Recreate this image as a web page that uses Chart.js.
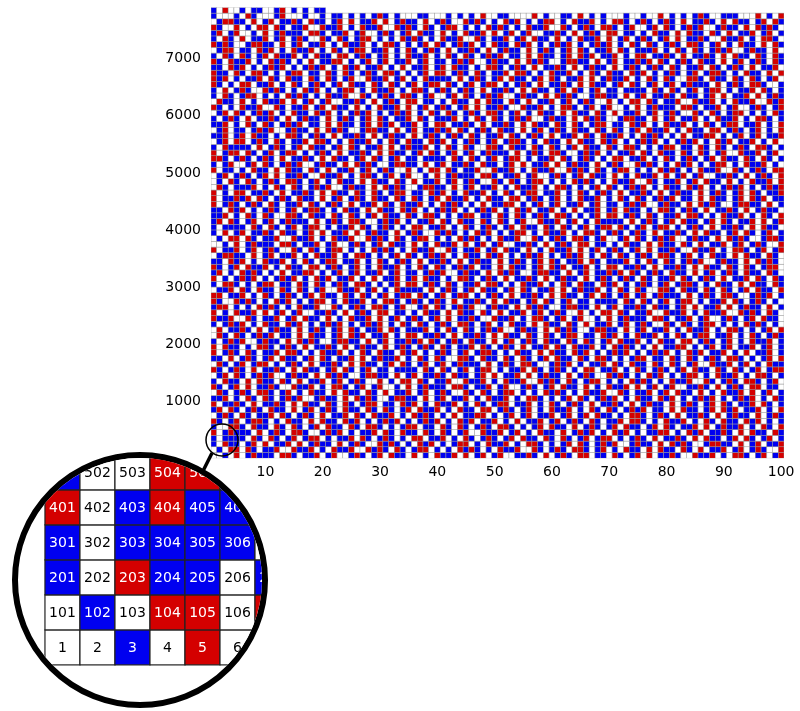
<!DOCTYPE html>
<html><head><meta charset="utf-8">
<script src="https://cdn.jsdelivr.net/npm/chart.js@4"></script>
<style>
body{margin:0;background:#fff;width:800px;height:711px;overflow:hidden;position:relative}
#main{position:absolute;left:0;top:-7px}
#insetWrap{position:absolute;left:12px;top:452px;width:244px;height:244px;border:6px solid #000;border-radius:50%;overflow:hidden;background:#fff}
</style></head><body>
<canvas id="main" width="800" height="490"></canvas>
<div id="insetWrap"><canvas id="inset" width="244" height="244"></canvas></div>
<script>
// Cell colours, one string per row of 100 cells, bottom row (cells 1-100) first.
// r = red, b = blue, w = white. Last row is partial (cells 7801-7824).
const rowCodes = [
"wwbwr wbrbb bwrrb wbbrw brwwb rbwbr wrbbw rwbwr bbrwr wbrwb rwwbb rbwrw brbwr rwbbw rbwbr wrwbb rbwwr bbrwb wrrbw brwbr",
"wbwrr wrbwb brwwr bbrwb wrbbr wwrbr bwrbw brrwb wbwrb rbwbw rbbrw wrbwb rbwrr bwbrw bwrbb wrwrb bwrbw rwbbr wbrwb rbwwr",
"bwrbb wbrwr wbbrw rwbrb bwrwb rbwwr brbwb wrbrw bwbrr wbwrb brwbw rrbwb wbrwr bwbrb rwwbr bbwrw rbrbw wbrrb bwrwb rwbbr",
"bwbbb bwrbw rbwbr wbrrw bwbbr wrbwb rbwbw rrwbb rwbwr bwbrb wbrwr bbwrb wrbwb rwbrr wbwbr bwrwb brbwr wrbbw brwrb wbrwb",
"rwbrb bbwrw brbwr rbwwb rbrwb wbbrw rbwrb bwrbw rbwbr wwrbb rwbrw bwrbb wrwbr brwbw rbrwb wbbrr wbwrb rwbbr bwrwr bbwrb",
"bwwrr bwrbb wrbwr bwbrw rbbwr bwrrb wbwbr rwbbw rbwrb wbrbw rrbwb wbrwr bbwrw brbwb rwrbb wbrwr bwbbr wrwbr bbrwb wrbwr",
"rbwbr wbrrb wbwrb bwrwr bbwrb rwbwb rbrwb wbrbr wbwrb rwbbr wbwrw bbrwb rwbrb wrbwb brwrr bwbwr bbrwb wrbwr bbwrb rwbwb",
"wbrbw rbwbb rwrbw brbwr wbbrw rbwrb brwbw rbrbw bwrwb brrwb wbrwb rwbbr wbrwb rwrbb wbwrr bwbrb wrwbb rbwrw brbbw rwbrb",
"brwrb wbrbw rbbwr wbrwb rbwrb bwrbw rbwbr wrbbr wbwrb bwrrw brbwb rwbwr bbrwb wrbwr bwbrb rwbbw rwrbb wbrwr brwbb rwbwr",
"rwbbr bwrwb brbwr wrbbw rbwrb wbrrw bbwrb rwbwr bbrwb wrbwb rrwbb rwbwr bwbrb wrwbb rbwrw brbbw rwbrb wbrwr bwbbr wrbwb",
"bbrwb wrbwr bwbrb rwwbr bbwrw rbrbw wbrrb bwrwb rwbbr wbwrb brwbw rrbwb wbrwr bwbrb rwbwr bbwrb rwbwb rbrwb wbrbr wbwrb",
"wrbwb rbwrr bwbrw bwrbb wrwrb bwrbw rwbbr wbrwb rbwwr bwrbw brrwb wbwrb rbwbw rbbrw wrbwb brwbr wrbbw rwbwr bbrwr wbrwb",
"rbwbr wrwbb rbwwr bbrwb wrrbw brwbr wwbwr wbrbb bwrrb wbbrw brwwb rbwbr wrbbw rwbwr bbrwr wbrwb rwwbb rbwrw brbwr rwbbw",
"bwrbb wrwrb bwrbw rwbbr wbrwb rbwwr wbwrr wrbwb brwwr bbrwb wrbbr wwrbr bwrbw brrwb wbwrb rbwbw rbbrw wrbwb rbwrr bwbrw",
"wbrwr bwbrb rwwbr bbwrw rbrbw wbrrb bwrwb rwbbr bwrbb wbrwr wbbrw rwbrb bwrwb rbwwr brbwb wrbrw bwbrr wbwrb brwbw rrbwb",
"rbwbr bwrwb brbwr wrbbw brwrb wbrwb bwbbb bwrbw rbwbr wbrrw bwbbr wrbwb rbwbw rrwbb rwbwr bwbrb wbrwr bbwrb wrbwb rwbrr",
"wrbwb rwbrr wbwbr bwrwb brbwr wrbbw brwrb wbrwb rwbrb bbwrw brbwr rbwwb rbrwb wbbrw rbwrb bwrbw rbwbr wwrbb rwbrw bwrbb",
"bbwrw brbwb rwrbb wbrwr bwbbr wrwbr bbrwb wrbwr bwwrr bwrbb wrbwr bwbrw rbbwr bwrrb wbwbr rwbbw rbwrb wbrbw rrbwb wbrwr",
"rwbrb wrbwb brwrr bwbwr bbrwb wrbwr bbwrb rwbwb rbwbr wbrrb wbwrb bwrwr bbwrb rwbwb rbrwb wbrbr wbwrb rwbbr wbwrw bbrwb",
"rwrbb wbwrr bwbrb wrwbb rbwrw brbbw rwbrb wbrbw rbwbb rwrbw brbwr wbbrw rbwrb brwbw rbrbw bwrwb brrwb wbrwb rwbbr wbrwb",
"bwbrb rwwbr bbwrw rbrbw wbrrb bwrwb rwbbr brwrb wbrbw rbbwr wbrwb rbwrb bwrbw rbwbr wrbbr wbwrb bwrrw brbwb rwbwr bbrwb",
"wrbwr bwbrb rwbbw rwrbb wbrwr brwbb rwbwr rwbbr bwrwb brbwr wrbbw rbwrb wbrrw bbwrb rwbwr bbrwb wrbwb rrwbb rwbwr bwbrb",
"wrwbb rbwrw brbbw rwbrb wbrwr bwbbr wrbwb bbrwb wrbwr bwbrb rwwbr bbwrw rbrbw wbrrb bwrwb rwbbr wbwrb brwbw rrbwb wbrwr",
"bwbrb rwbwr bbwrb rwbwb rbrwb wbrbr wbwrb wrbwb rbwrr bwbrw bwrbb wrwrb bwrbw rwbbr wbrwb rbwwr bwrbw brrwb wbwrb rbwbw",
"rbbrw wrbwb brwbr wrbbw rwbwr bbrwr wbrwb rbwbr wrwbb rbwwr bbrwb wrrbw brwbr wwbwr wbrbb bwrrb wbbrw brwwb rbwbr wrbbw",
"rwbwr bbrwr wbrwb rwwbb rbwrw brbwr rwbbw bwrbb wrwrb bwrbw rwbbr wbrwb rbwwr wbwrr wrbwb brwwr bbrwb wrbbr wwrbr bwrbw",
"brrwb wbwrb rbwbw rbbrw wrbwb rbwrr bwbrw wbrwr bwbrb rwwbr bbwrw rbrbw wbrrb bwrwb rwbbr bwrbb wbrwr wbbrw rwbrb bwrwb",
"rbwwr brbwb wrbrw bwbrr wbwrb brwbw rrbwb rbwbr bwrwb brbwr wrbbw brwrb wbrwb bwbbb bwrbw rbwbr wbrrw bwbbr wrbwb rbwbw",
"rrwbb rwbwr bwbrb wbrwr bbwrb wrbwb rwbrr wrbwb rwbrr wbwbr bwrwb brbwr wrbbw brwrb wbrwb rwbrb bbwrw brbwr rbwwb rbrwb",
"wbbrw rbwrb bwrbw rbwbr wwrbb rwbrw bwrbb bbwrw brbwb rwrbb wbrwr bwbbr wrwbr bbrwb wrbwr bwwrr bwrbb wrbwr bwbrw rbbwr",
"bwrrb wbwbr rwbbw rbwrb wbrbw rrbwb wbrwr rwbrb wrbwb brwrr bwbwr bbrwb wrbwr bbwrb rwbwb rbwbr wbrrb wbwrb bwrwr bbwrb",
"rwbwb rbrwb wbrbr wbwrb rwbbr wbwrw bbrwb rwrbb wbwrr bwbrb wrwbb rbwrw brbbw rwbrb wbrbw rbwbb rwrbw brbwr wbbrw rbwrb",
"brwbw rbrbw bwrwb brrwb wbrwb rwbbr wbrwb bwbrb rwwbr bbwrw rbrbw wbrrb bwrwb rwbbr brwrb wbrbw rbbwr wbrwb rbwrb bwrbw",
"rbwbr wrbbr wbwrb bwrrw brbwb rwbwr bbrwb wrbwr bwbrb rwbbw rwrbb wbrwr brwbb rwbwr rwbbr bwrwb brbwr wrbbw rbwrb wbrrw",
"bbwrb rwbwr bbrwb wrbwb rrwbb rwbwr bwbrb wrwbb rbwrw brbbw rwbrb wbrwr bwbbr wrbwb bbrwb wrbwr bwbrb rwwbr bbwrw rbrbw",
"wbrrb bwrwb rwbbr wbwrb brwbw rrbwb wbrwr bwbrb rwbwr bbwrb rwbwb rbrwb wbrbr wbwrb wrbwb rbwrr bwbrw bwrbb wrwrb bwrbw",
"rwbbr wbrwb rbwwr bwrbw brrwb wbwrb rbwbw rbbrw wrbwb brwbr wrbbw rwbwr bbrwr wbrwb rbwbr wrwbb rbwwr bbrwb wrrbw brwbr",
"wwbwr wbrbb bwrrb wbbrw brwwb rbwbr wrbbw rwbwr bbrwr wbrwb rwwbb rbwrw brbwr rwbbw bwrbb wrwrb bwrbw rwbbr wbrwb rbwwr",
"wbwrr wrbwb brwwr bbrwb wrbbr wwrbr bwrbw brrwb wbwrb rbwbw rbbrw wrbwb rbwrr bwbrw wbrwr bwbrb rwwbr bbwrw rbrbw wbrrb",
"bwrwb rwbbr bwrbb wbrwr wbbrw rwbrb bwrwb rbwwr brbwb wrbrw bwbrr wbwrb brwbw rrbwb rbwbr bwrwb brbwr wrbbw brwrb wbrwb",
"bwbbb bwrbw rbwbr wbrrw bwbbr wrbwb rbwbw rrwbb rwbwr bwbrb wbrwr bbwrb wrbwb rwbrr wrbwb rwbrr wbwbr bwrwb brbwr wrbbw",
"brwrb wbrwb rwbrb bbwrw brbwr rbwwb rbrwb wbbrw rbwrb bwrbw rbwbr wwrbb rwbrw bwrbb bbwrw brbwb rwrbb wbrwr bwbbr wrwbr",
"bbrwb wrbwr bwwrr bwrbb wrbwr bwbrw rbbwr bwrrb wbwbr rwbbw rbwrb wbrbw rrbwb wbrwr rwbrb wrbwb brwrr bwbwr bbrwb wrbwr",
"bbwrb rwbwb rbwbr wbrrb wbwrb bwrwr bbwrb rwbwb rbrwb wbrbr wbwrb rwbbr wbwrw bbrwb rwrbb wbwrr bwbrb wrwbb rbwrw brbbw",
"rwbrb wbrbw rbwbb rwrbw brbwr wbbrw rbwrb brwbw rbrbw bwrwb brrwb wbrwb rwbbr wbrwb bwbrb rwwbr bbwrw rbrbw wbrrb bwrwb",
"rwbbr brwrb wbrbw rbbwr wbrwb rbwrb bwrbw rbwbr wrbbr wbwrb bwrrw brbwb rwbwr bbrwb wrbwr bwbrb rwbbw rwrbb wbrwr brwbb",
"rwbwr rwbbr bwrwb brbwr wrbbw rbwrb wbrrw bbwrb rwbwr bbrwb wrbwb rrwbb rwbwr bwbrb wrwbb rbwrw brbbw rwbrb wbrwr bwbbr",
"wrbwb bbrwb wrbwr bwbrb rwwbr bbwrw rbrbw wbrrb bwrwb rwbbr wbwrb brwbw rrbwb wbrwr bwbrb rwbwr bbwrb rwbwb rbrwb wbrbr",
"wbwrb wrbwb rbwrr bwbrw bwrbb wrwrb bwrbw rwbbr wbrwb rbwwr bwrbw brrwb wbwrb rbwbw rbbrw wrbwb brwbr wrbbw rwbwr bbrwr",
"wbrwb rbwbr wrwbb rbwwr bbrwb wrrbw brwbr wwbwr wbrbb bwrrb wbbrw brwwb rbwbr wrbbw rwbwr bbrwr wbrwb rwwbb rbwrw brbwr",
"rwbbw bwrbb wrwrb bwrbw rwbbr wbrwb rbwwr wbwrr wrbwb brwwr bbrwb wrbbr wwrbr bwrbw brrwb wbwrb rbwbw rbbrw wrbwb rbwrr",
"bwbrw wbrwr bwbrb rwwbr bbwrw rbrbw wbrrb bwrwb rwbbr bwrbb wbrwr wbbrw rwbrb bwrwb rbwwr brbwb wrbrw bwbrr wbwrb brwbw",
"rrbwb rbwbr bwrwb brbwr wrbbw brwrb wbrwb bwbbb bwrbw rbwbr wbrrw bwbbr wrbwb rbwbw rrwbb rwbwr bwbrb wbrwr bbwrb wrbwb",
"rwbrr wrbwb rwbrr wbwbr bwrwb brbwr wrbbw brwrb wbrwb rwbrb bbwrw brbwr rbwwb rbrwb wbbrw rbwrb bwrbw rbwbr wwrbb rwbrw",
"bwrbb bbwrw brbwb rwrbb wbrwr bwbbr wrwbr bbrwb wrbwr bwwrr bwrbb wrbwr bwbrw rbbwr bwrrb wbwbr rwbbw rbwrb wbrbw rrbwb",
"wbrwr rwbrb wrbwb brwrr bwbwr bbrwb wrbwr bbwrb rwbwb rbwbr wbrrb wbwrb bwrwr bbwrb rwbwb rbrwb wbrbr wbwrb rwbbr wbwrw",
"bbrwb rwrbb wbwrr bwbrb wrwbb rbwrw brbbw rwbrb wbrbw rbwbb rwrbw brbwr wbbrw rbwrb brwbw rbrbw bwrwb brrwb wbrwb rwbbr",
"wbrwb bwbrb rwwbr bbwrw rbrbw wbrrb bwrwb rwbbr brwrb wbrbw rbbwr wbrwb rbwrb bwrbw rbwbr wrbbr wbwrb bwrrw brbwb rwbwr",
"bbrwb wrbwr bwbrb rwbbw rwrbb wbrwr brwbb rwbwr rwbbr bwrwb brbwr wrbbw rbwrb wbrrw bbwrb rwbwr bbrwb wrbwb rrwbb rwbwr",
"bwbrb wrwbb rbwrw brbbw rwbrb wbrwr bwbbr wrbwb bbrwb wrbwr bwbrb rwwbr bbwrw rbrbw wbrrb bwrwb rwbbr wbwrb brwbw rrbwb",
"wbrwr bwbrb rwbwr bbwrb rwbwb rbrwb wbrbr wbwrb wrbwb rbwrr bwbrw bwrbb wrwrb bwrbw rwbbr wbrwb rbwwr bwrbw brrwb wbwrb",
"rbwbw rbbrw wrbwb brwbr wrbbw rwbwr bbrwr wbrwb rbwbr wrwbb rbwwr bbrwb wrrbw brwbr wwbwr wbrbb bwrrb wbbrw brwwb rbwbr",
"wrbbw rwbwr bbrwr wbrwb rwwbb rbwrw brbwr rwbbw bwrbb wrwrb bwrbw rwbbr wbrwb rbwwr wbwrr wrbwb brwwr bbrwb wrbbr wwrbr",
"bwrbw brrwb wbwrb rbwbw rbbrw wrbwb rbwrr bwbrw wbrwr bwbrb rwwbr bbwrw rbrbw wbrrb bwrwb rwbbr bwrbb wbrwr wbbrw rwbrb",
"bwrwb rbwwr brbwb wrbrw bwbrr wbwrb brwbw rrbwb rbwbr bwrwb brbwr wrbbw brwrb wbrwb bwbbb bwrbw rbwbr wbrrw bwbbr wrbwb",
"rbwbw rrwbb rwbwr bwbrb wbrwr bbwrb wrbwb rwbrr wrbwb rwbrr wbwbr bwrwb brbwr wrbbw brwrb wbrwb rwbrb bbwrw brbwr rbwwb",
"rbrwb wbbrw rbwrb bwrbw rbwbr wwrbb rwbrw bwrbb bbwrw brbwb rwrbb wbrwr bwbbr wrwbr bbrwb wrbwr bwwrr bwrbb wrbwr bwbrw",
"rbbwr bwrrb wbwbr rwbbw rbwrb wbrbw rrbwb wbrwr rwbrb wrbwb brwrr bwbwr bbrwb wrbwr bbwrb rwbwb rbwbr wbrrb wbwrb bwrwr",
"bbwrb rwbwb rbrwb wbrbr wbwrb rwbbr wbwrw bbrwb rwrbb wbwrr bwbrb wrwbb rbwrw brbbw rwbrb wbrbw rbwbb rwrbw brbwr wbbrw",
"rbwrb brwbw rbrbw bwrwb brrwb wbrwb rwbbr wbrwb bwbrb rwwbr bbwrw rbrbw wbrrb bwrwb rwbbr brwrb wbrbw rbbwr wbrwb rbwrb",
"bwrbw rbwbr wrbbr wbwrb bwrrw brbwb rwbwr bbrwb wrbwr bwbrb rwbbw rwrbb wbrwr brwbb rwbwr rwbbr bwrwb brbwr wrbbw rbwrb",
"wbrrw bbwrb rwbwr bbrwb wrbwb rrwbb rwbwr bwbrb wrwbb rbwrw brbbw rwbrb wbrwr bwbbr wrbwb bbrwb wrbwr bwbrb rwwbr bbwrw",
"rbrbw wbrrb bwrwb rwbbr wbwrb brwbw rrbwb wbrwr bwbrb rwbwr bbwrb rwbwb rbrwb wbrbr wbwrb wrbwb rbwrr bwbrw bwrbb wrwrb",
"bwrbw rwbbr wbrwb rbwwr bwrbw brrwb wbwrb rbwbw rbbrw wrbwb brwbr wrbbw rwbwr bbrwr wbrwb rbwbr wrwbb rbwwr bbrwb wrrbw",
"brwbr wwbwr wbrbb bwrrb wbbrw brwwb rbwbr wrbbw rwbwr bbrwr wbrwb rwwbb rbwrw brbwr rwbbw bwrbb wrwrb bwrbw rwbbr wbrwb",
"rbwwr wbwrr wrbwb brwwr bbrwb wrbbr wwrbr bwrbw brrwb wbwrb rbwbw rbbrw wrbwb rbwrr bwbrw wbrwr bwbrb rwwbr bbwrw rbrbw",
"wbrrb bwrwb rwbbr bwrbb wbrwr wbbrw rwbrb bwrwb rbwwr brbwb wrbrw bwbrr wbwrb brwbw rrbwb rbwbr bwrwb brbwr wrbbw brwrb",
"bwwwb wrbww wbrww wbwwb wbbwb wbwbr bwbww wbbww wbwbw bwrww bbwww wrwbw wbbwr wbwbw wwbww bwwrw bwbwb rbwwb bbwww rwbwr",
"bwrww bwbbw wbrwb wbwbb"
];
const xTickValues = [10,20,30,40,50,60,70,80,90,100];
const yTickValues = [1000,2000,3000,4000,5000,6000,7000];

const RED = '#d40000', BLUE = '#0000f0';
const cells = [];
rowCodes.forEach((s, r) => {
  const codes = s.replace(/\s/g, '');
  for (let c = 0; c < codes.length; c++) {
    cells.push({x: c + 1, y: r * 100 + 50, n: r * 100 + c + 1, k: codes[c]});
  }
});
const colorOf = k => k === 'r' ? RED : k === 'b' ? BLUE : '#ffffff';

function cellPlugin(opts) {
  return {
    id: 'cells',
    beforeDatasetsDraw(chart) {
      const {ctx, chartArea: a} = chart;
      const xs = chart.scales.x, ys = chart.scales.y;
      ctx.save();
      ctx.beginPath(); ctx.rect(a.left, a.top, a.right - a.left, a.bottom - a.top); ctx.clip();
      chart.data.datasets[0].data.forEach(d => {
        const x0 = xs.getPixelForValue(d.x - 0.5), x1 = xs.getPixelForValue(d.x + 0.5);
        const y0 = ys.getPixelForValue(d.y + 50), y1 = ys.getPixelForValue(d.y - 50);
        ctx.fillStyle = colorOf(d.k);
        ctx.fillRect(x0, y0, x1 - x0, y1 - y0);
        ctx.strokeStyle = opts.grid; ctx.lineWidth = opts.lw;
        ctx.strokeRect(x0, y0, x1 - x0, y1 - y0);
        if (opts.labels) {
          ctx.fillStyle = d.k === 'w' ? '#000' : '#fff';
          ctx.font = '14px "DejaVu Sans"';
          ctx.textAlign = 'center'; ctx.textBaseline = 'middle';
          ctx.fillText(String(d.n), (x0 + x1) / 2, (y0 + y1) / 2 + 1);
        }
      });
      ctx.restore();
    }
  };
}
const decoPlugin = {
  id: 'deco',
  afterDraw(chart) {
    const ctx = chart.ctx;
    ctx.save();
    ctx.strokeStyle = '#000';
    ctx.lineWidth = 1.5;
    ctx.beginPath(); ctx.arc(222, 447, 16, 0, Math.PI * 2); ctx.stroke();
    ctx.lineWidth = 3.5;
    ctx.beginPath(); ctx.moveTo(212, 460); ctx.lineTo(200, 484); ctx.stroke();
    ctx.restore();
  }
};

const tickFont = {family: 'DejaVu Sans', size: 14};
new Chart(document.getElementById('main'), {
  type: 'scatter',
  data: {datasets: [{data: cells, pointRadius: 0}]},
  plugins: [cellPlugin({grid: '#9a9a9a', lw: 0.5, labels: false}), decoPlugin],
  options: {
    responsive: false, animation: false, events: [],
    layout: {padding: {left: 0, right: 16, top: 0, bottom: 0}},
    plugins: {legend: {display: false}, tooltip: {enabled: false}},
    scales: {
      x: {type: 'linear', min: 0.5, max: 100.5,
        afterBuildTicks: s => { s.ticks = xTickValues.map(v => ({value: v})); },
        grid: {display: false, drawTicks: true, tickLength: 4, tickColor: '#000'},
        border: {display: false},
        ticks: {color: '#000', font: tickFont, padding: 2, callback: v => String(v)}},
      y: {type: 'linear', min: 0, max: 7900,
        afterBuildTicks: s => { s.ticks = yTickValues.map(v => ({value: v})); },
        afterFit: s => { s.width = 211; },
        grid: {display: false, drawTicks: true, tickLength: 4, tickColor: '#000'},
        border: {display: false},
        ticks: {color: '#000', font: tickFont, padding: 6, callback: v => String(v)}}
    }
  }
});

new Chart(document.getElementById('inset'), {
  type: 'scatter',
  data: {datasets: [{data: cells.filter(d => d.x <= 7 && d.y < 700), pointRadius: 0}]},
  plugins: [cellPlugin({grid: '#222', lw: 1.2, labels: true})],
  options: {
    responsive: false, animation: false, events: [],
    layout: {padding: 0},
    plugins: {legend: {display: false}, tooltip: {enabled: false}},
    scales: {
      x: {type: 'linear', min: -0.27, max: 6.7, display: false},
      y: {type: 'linear', min: -106, max: 591, display: false}
    }
  }
});
</script>
</body></html>
